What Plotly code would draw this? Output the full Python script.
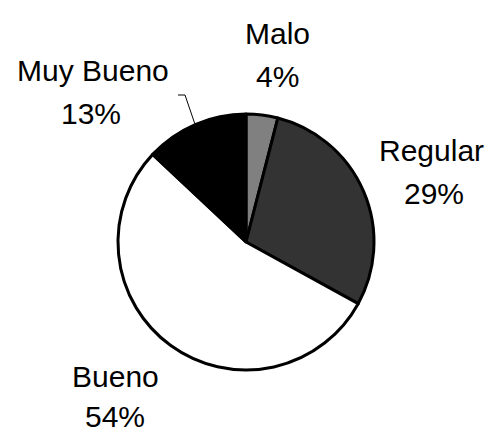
import math
import plotly.graph_objects as go

# datos
categorias = ['Malo', 'Regular', 'Bueno', 'Muy Bueno']
valores = [4, 29, 54, 13]
colores = ['#808080', '#333333', '#FFFFFF', '#000000']

# la pagina deja 8px de margen en el body: se compensa aqui
OFF = 8
W, H = 494 - OFF, 433 - OFF
CX, CY, R = 246 - OFF, 242 - OFF, 128  # centro y radio del pie en pixeles


def px(x, y):
    return (x - OFF) / W, 1 - (y - OFF) / H


fig = go.Figure(go.Pie(
    labels=categorias,
    values=valores,
    sort=False,
    direction='clockwise',
    rotation=0,
    marker=dict(colors=colores, line=dict(color='black', width=3)),
    textinfo='none',
    hoverinfo='label+percent',
    showlegend=False,
    domain=dict(x=[(CX - R) / W, (CX + R) / W],
                y=[1 - (CY + R) / H, 1 - (CY - R) / H]),
))

# posiciones de etiquetas (pixeles de la ventana): nombre y porcentaje
pos_etiquetas = {
    'Malo': ((277, 33), (277, 76)),
    'Regular': ((431, 151), (434, 193)),
    'Bueno': ((115, 376), (115, 416)),
    'Muy Bueno': ((93, 70), (91, 114)),
}

total = sum(valores)
fuente = dict(family='Liberation Sans, Arial, sans-serif', size=30, color='black')
for cat, val in zip(categorias, valores):
    (x1, y1), (x2, y2) = pos_etiquetas[cat]
    pct = f"{round(100 * val / total)}%"
    for (x, y), txt in (((x1, y1), cat), ((x2, y2), pct)):
        ax_, ay_ = px(x, y)
        fig.add_annotation(x=ax_, y=ay_, xref='paper', yref='paper', text=txt,
                           showarrow=False, font=fuente, xanchor='center', yanchor='middle')

# linea guia para "Muy Bueno", calculada desde el angulo del sector
acum = sum(valores[:3]) + valores[3] / 2
ang = 2 * math.pi * acum / total
ex, ey = 246 + (R + 1) * math.sin(ang), 242 - (R + 1) * math.cos(ang)
p_ex, p_ey = px(ex, ey)
p_kx, p_ky = px(185, 95)
p_sx, p_sy = px(178, 95)
fig.add_shape(type='path', xref='paper', yref='paper',
              path=f"M {p_sx} {p_sy} L {p_kx} {p_ky} L {p_ex} {p_ey}",
              line=dict(color='black', width=1))

fig.update_layout(
    width=W, height=H,
    margin=dict(l=0, r=0, t=0, b=0),
    paper_bgcolor='white',
    plot_bgcolor='white',
)

fig.write_html("out.html")
